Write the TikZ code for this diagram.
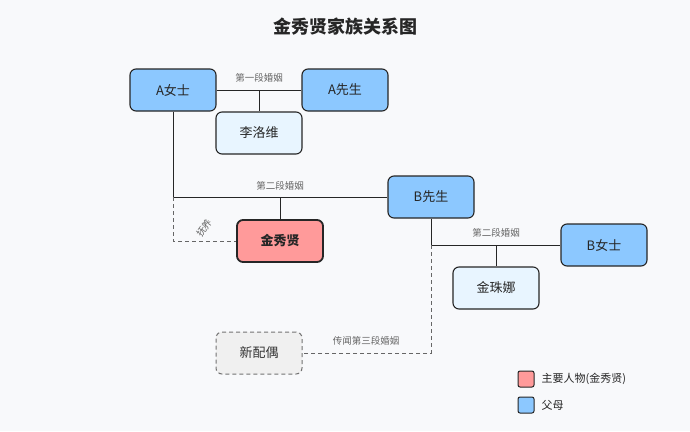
\documentclass[tikz,border=0pt]{standalone}
\usepackage{fontspec}
\setmainfont{Noto Sans CJK SC}
\begin{document}
\begin{tikzpicture}[x=1pt,y=-1pt,
 box/.style={draw=black!85,line width=1.1pt,rounded corners=6pt,minimum width=86pt,minimum height=42pt,font=\fontsize{13}{15}\selectfont,text=black!85},
 lbl/.style={font=\fontsize{9.5}{11}\selectfont,text=black!60,inner sep=1pt},
 ln/.style={draw=black!85,line width=1pt},
 dl/.style={draw=black!60,line width=0.9pt,dash pattern=on 4pt off 3pt}]
\definecolor{bg}{HTML}{F8F9FB}\definecolor{pb}{HTML}{8CC8FF}\definecolor{kb}{HTML}{E8F5FF}\definecolor{rd}{HTML}{FF9A9A}
\fill[bg] (0,0) rectangle (690,431);
\node[font=\bfseries\fontsize{18}{21}\selectfont,text=black!85] (t) at (345,27) {金秀贤家族关系图};
\node[box,fill=pb] (aw) at (173,90) {A女士};
\node[box,fill=pb] (am) at (345,90) {A先生};
\node[box,fill=kb] (li) at (259,133) {李洛维};
\node[box,fill=pb] (bm) at (431,197) {B先生};
\node[box,fill=rd,line width=1.8pt,font=\bfseries\fontsize{13}{15}\selectfont] (kim) at (280,241) {金秀贤};
\node[box,fill=pb] (bw) at (604,245) {B女士};
\node[box,fill=kb] (jz) at (496,288) {金珠娜};
\node[box,fill=black!6,draw=black!55,dash pattern=on 4pt off 3pt,line width=1pt,text=black!80] (nx) at (259,353) {新配偶};
\coordinate (m1) at (259,90);
\coordinate (c1) at (173,197);
\coordinate (m2) at (280,197);
\coordinate (c2) at (431,245);
\coordinate (m3) at (496,245);
\draw[ln] (aw) -- (am);
\draw[ln] (m1) -- (li);
\node[lbl] (l1) at (259,78) {第一段婚姻};
\draw[ln] (aw) -- (c1) -- (bm.west |- c1);
\draw[ln] (m2) -- (kim);
\node[lbl] (l2) at (280,186) {第二段婚姻};
\draw[dl] (c1) -- (c1 |- kim) -- (kim.west);
\node[lbl,rotate=55,inner sep=0pt] (l3) at (204,228) {抚养};
\draw[ln] (bm) -- (c2) -- (bw.west |- c2);
\draw[ln] (m3) -- (jz);
\node[lbl] (l4) at (496,233) {第二段婚姻};
\draw[dl] (c2) -- (c2 |- nx) -- (nx.east);
\node[lbl] (l5) at (366,341) {传闻第三段婚姻};
\node[draw=black!85,line width=1pt,rounded corners=2pt,fill=rd,minimum size=16pt,inner sep=0pt] (k1) at (526,379) {};
\node[draw=black!85,line width=1pt,rounded corners=2pt,fill=pb,minimum size=16pt,inner sep=0pt] (k2) at (526,405) {};
\node[anchor=west,font=\fontsize{11}{13}\selectfont,text=black!85] (t1) at (538,379) {主要人物(金秀贤)};
\node[anchor=west,font=\fontsize{11}{13}\selectfont,text=black!85] (t2) at (538,405) {父母};
\end{tikzpicture}
\end{document}
